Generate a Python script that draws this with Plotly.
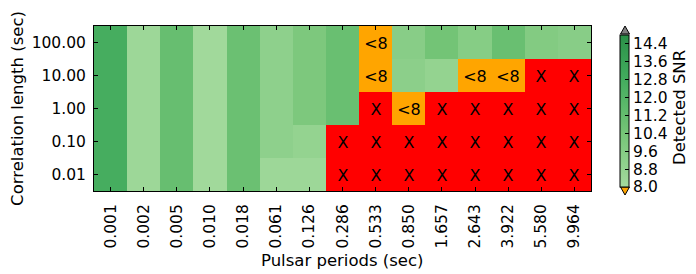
import plotly.graph_objects as go

periods = ["0.001", "0.002", "0.005", "0.010", "0.018", "0.061", "0.126", "0.286",
           "0.533", "0.850", "1.657", "2.643", "3.922", "5.580", "9.964"]
corr_lengths = ["0.01", "0.10", "1.00", "10.00", "100.00"]

# Detected SNR (rows bottom -> top); None where marked below
snr = [
    [12.7, 8.3, 11.1, 8.1, 10.9, 8.3, 8.3, None, None, None, None, None, None, None, None],
    [12.7, 8.3, 11.1, 8.1, 10.9, 9.1, 8.8, None, None, None, None, None, None, None, None],
    [12.7, 8.3, 11.1, 8.1, 10.9, 9.1, 10.0, 11.0, None, None, None, None, None, None, None],
    [12.7, 8.3, 11.1, 8.1, 10.9, 9.1, 10.0, 11.0, None, 9.2, 8.8, None, None, None, None],
    [12.7, 8.3, 11.1, 8.1, 10.9, 9.1, 10.0, 11.0, None, 9.4, 10.5, 9.5, 11.0, 9.7, 9.4],
]
# Status marks: "<8" below threshold, "X" not detected
marks = [
    ["", "", "", "", "", "", "", "X", "X", "X", "X", "X", "X", "X", "X"],
    ["", "", "", "", "", "", "", "X", "X", "X", "X", "X", "X", "X", "X"],
    ["", "", "", "", "", "", "", "", "X", "<8", "X", "X", "X", "X", "X"],
    ["", "", "", "", "", "", "", "", "<8", "", "", "<8", "<8", "X", "X"],
    ["", "", "", "", "", "", "", "", "<8", "", "", "", "", "", ""],
]
cbar_ticks = [8.0, 8.8, 9.6, 10.4, 11.2, 12.0, 12.8, 13.6, 14.4]
cbar_title = "Detected SNR"
x_title = "Pulsar periods (sec)"
y_title = "Correlation length (sec)"

code = [[(0 if m == "<8" else 1) if m else None for m in row] for row in marks]

FONT = "DejaVu Sans"
TICK = 15.5
TITLE = 16.5
greens = [[0.0, "#a3da9d"], [0.362, "#74c476"], [0.725, "#41ab5d"], [1.0, "#2b9048"]]

# reference-pixel -> paper coordinate helpers (plot area 94..591 x 26..191)
def px(xp):
    return (xp - 94) / 497
def py(yp):
    return (191 - yp) / 165

fig = go.Figure()
fig.add_trace(go.Heatmap(
    x=periods, y=corr_lengths, z=snr, zmin=8.0, zmax=14.8,
    colorscale=greens, hoverongaps=False,
    colorbar=dict(
        thickness=9, len=152, lenmode="pixels", x=px(620), xanchor="left", xpad=0, ypad=0,
        y=py(111), yanchor="middle", outlinewidth=1, outlinecolor="black",
        tickvals=cbar_ticks, ticktext=[f"{v:.1f}" for v in cbar_ticks],
        ticks="inside", ticklen=4, tickcolor="black",
        tickfont=dict(family=FONT, size=TICK, color="black"),
    ),
))
fig.add_trace(go.Heatmap(
    x=periods, y=corr_lengths, z=code, zmin=0, zmax=1,
    colorscale=[[0, "#ffa500"], [0.5, "#ffa500"], [0.5, "#ff0000"], [1, "#ff0000"]],
    showscale=False, text=marks, texttemplate="%{text}",
    textfont=dict(family=FONT, size=16, color="black"), hoverongaps=False,
))

# colorbar extension triangles
fig.add_shape(type="path", xref="paper", yref="paper",
              path=f"M {px(620.5)} {py(34)} L {px(629.5)} {py(34)} L {px(625)} {py(26)} Z",
              fillcolor="#808080", line=dict(color="black", width=1))
fig.add_shape(type="path", xref="paper", yref="paper",
              path=f"M {px(620.5)} {py(187)} L {px(629.5)} {py(187)} L {px(625)} {py(195)} Z",
              fillcolor="#ffa500", line=dict(color="black", width=1))

fig.add_annotation(text=cbar_title, textangle=-90, xref="paper", yref="paper",
                   x=px(679), y=py(108), xanchor="center", yanchor="middle",
                   showarrow=False, font=dict(family=FONT, size=TITLE, color="black"))
fig.add_annotation(text=x_title, xref="paper", yref="paper",
                   x=0.5, y=py(260), xanchor="center", yanchor="middle",
                   showarrow=False, font=dict(family=FONT, size=TITLE, color="black"))

axis_common = dict(showline=True, linecolor="black", linewidth=1, mirror="allticks",
                   ticks="inside", ticklen=4, tickcolor="black", showgrid=False,
                   zeroline=False, automargin=False,
                   tickfont=dict(family=FONT, size=TICK, color="black"))
fig.update_xaxes(type="category", tickangle=-90, ticklabelstandoff=6, **axis_common)
fig.update_yaxes(type="category", ticklabelstandoff=4,
                 title=dict(text=y_title,
                            font=dict(family=FONT, size=TITLE, color="black")),
                 **axis_common)

# page body has an 8px margin, so the figure is 8px smaller and shifted
fig.update_layout(width=688, height=266,
                  margin=dict(l=86, r=105, t=18, b=83, autoexpand=False),
                  paper_bgcolor="white", plot_bgcolor="white",
                  font=dict(family=FONT, color="black"))
fig.write_html("out.html")
